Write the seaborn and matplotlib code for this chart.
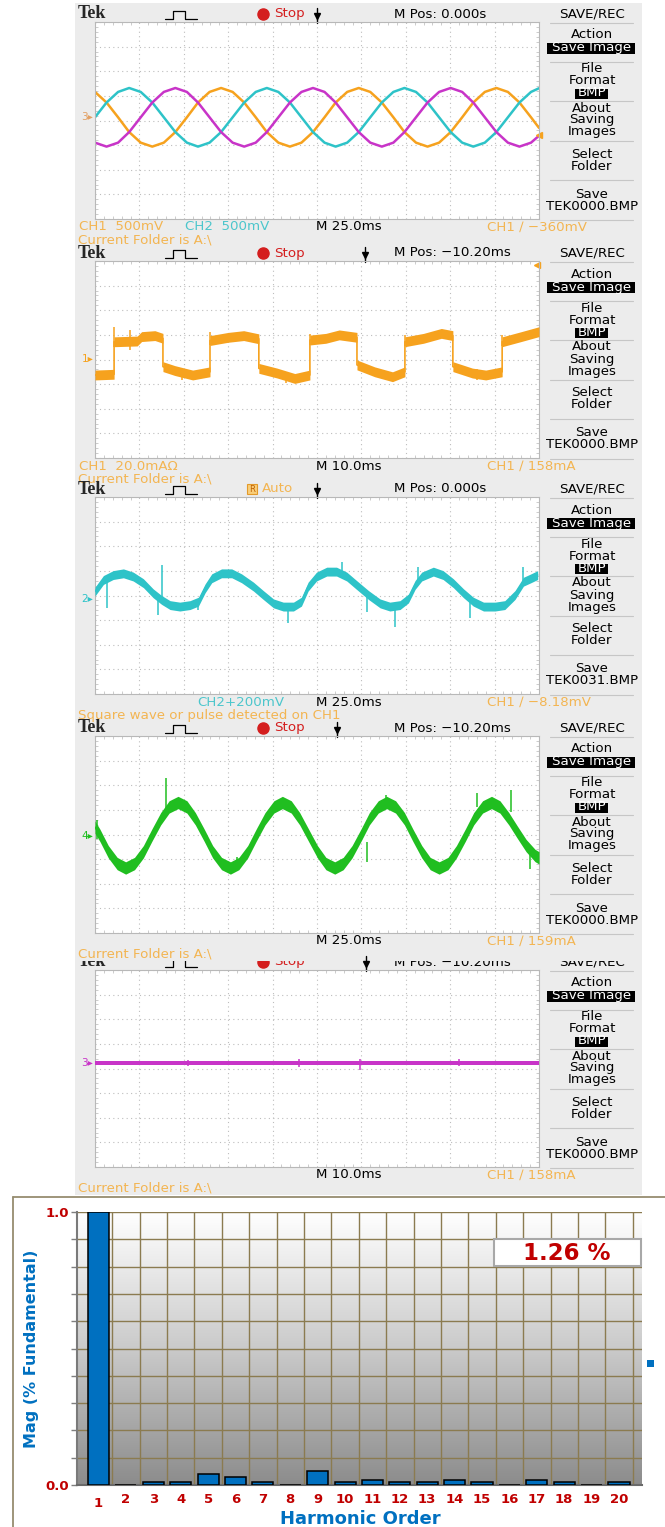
import numpy as np
import matplotlib
matplotlib.use("Agg")
import matplotlib.pyplot as plt
import matplotlib.transforms as mtransforms
from matplotlib.colors import LinearSegmentedColormap
from matplotlib.patches import Rectangle
from matplotlib.ticker import MultipleLocator
import seaborn as sns

# ---------------- data, in screen divisions (x 0..10, y -4..4) ----------------
# scope 1: three phase voltages
three_phase_t = [0.00, 0.26, 0.52, 0.77, 1.03, 1.29, 1.55, 1.81, 2.07, 2.32,
                 2.58, 2.84, 3.10, 3.36, 3.62, 3.87, 4.13, 4.39, 4.65, 4.91,
                 5.17, 5.42, 5.68, 5.94, 6.20, 6.46, 6.72, 6.97, 7.23, 7.49,
                 7.75, 8.01, 8.27, 8.52, 8.78, 9.04, 9.30, 9.56, 9.82, 10.00]
phase_a = [1.16, 0.73, 0.13, -0.47, -0.90, -1.06, -0.90, -0.47, 0.13, 0.73,
           1.16, 1.32, 1.16, 0.73, 0.13, -0.47, -0.90, -1.06, -0.90, -0.47,
           0.13, 0.73, 1.16, 1.32, 1.16, 0.73, 0.13, -0.47, -0.90, -1.06,
           -0.90, -0.47, 0.13, 0.73, 1.16, 1.32, 1.16, 0.73, 0.13, -0.30]
phase_b = [0.13, 0.73, 1.16, 1.32, 1.16, 0.73, 0.13, -0.47, -0.90, -1.06,
           -0.90, -0.47, 0.13, 0.73, 1.16, 1.32, 1.16, 0.73, 0.13, -0.47,
           -0.90, -1.06, -0.90, -0.47, 0.13, 0.73, 1.16, 1.32, 1.16, 0.73,
           0.13, -0.47, -0.90, -1.06, -0.90, -0.47, 0.13, 0.73, 1.16, 1.31]
phase_c = [-0.90, -1.06, -0.90, -0.47, 0.13, 0.73, 1.16, 1.32, 1.16, 0.73,
           0.13, -0.47, -0.90, -1.06, -0.90, -0.47, 0.13, 0.73, 1.16, 1.32,
           1.16, 0.73, 0.13, -0.47, -0.90, -1.06, -0.90, -0.47, 0.13, 0.73,
           1.16, 1.32, 1.16, 0.73, 0.13, -0.47, -0.90, -1.06, -0.90, -0.62]

# scope 2: load current (quasi square wave)
load_t = [0.00, 0.43, 0.43, 0.95, 1.05, 1.35, 1.53, 1.53, 1.80, 2.20, 2.59,
          2.59, 3.00, 3.35, 3.69, 3.69, 4.10, 4.50, 4.84, 4.84, 5.20, 5.50,
          5.90, 5.90, 6.30, 6.70, 6.98, 6.98, 7.40, 7.80, 8.06, 8.06, 8.50,
          8.80, 9.17, 9.17, 9.60, 10.00]
load_y = [-0.63, -0.60, 0.72, 0.75, 0.93, 0.97, 0.86, -0.29, -0.45, -0.63, -0.50,
          0.77, 0.90, 0.97, 0.84, -0.36, -0.55, -0.77, -0.63, 0.79, 0.86, 1.00,
          0.90, -0.22, -0.50, -0.70, -0.50, 0.72, 0.86, 1.06, 0.97, -0.29, -0.55,
          -0.63, -0.50, 0.72, 0.93, 1.13]
load_spike_t = [0.43, 0.79, 2.59, 4.84, 6.98, 9.17, 1.95, 4.30, 8.60]
load_spike_lo = [0.50, 0.40, 0.60, 0.60, 0.55, 0.55, -0.85, -0.95, -0.85]
load_spike_hi = [1.30, 1.20, 1.10, 1.05, 1.00, 1.00, -0.40, -0.50, -0.40]

# scope 3: compensator voltage
comp_t = [0.00, 0.19, 0.41, 0.64, 0.86, 1.09, 1.31, 1.50, 1.69, 1.91,
          2.14, 2.33, 2.48, 2.63, 2.85, 3.08, 3.30, 3.57, 3.79, 4.02,
          4.24, 4.47, 4.65, 4.80, 4.99, 5.22, 5.44, 5.67, 5.89, 6.16,
          6.42, 6.64, 6.87, 7.06, 7.21, 7.36, 7.62, 7.84, 8.07, 8.30,
          8.52, 8.75, 9.01, 9.23, 9.46, 9.65, 9.82, 9.97]
comp_y = [0.16, 0.63, 0.83, 0.90, 0.77, 0.50, 0.09, -0.18, -0.39, -0.45,
          -0.39, -0.25, 0.29, 0.70, 0.90, 0.90, 0.70, 0.36, 0.02, -0.32,
          -0.45, -0.45, -0.25, 0.36, 0.77, 0.97, 0.97, 0.77, 0.43, 0.02,
          -0.32, -0.45, -0.39, -0.12, 0.43, 0.77, 0.97, 0.83, 0.50, 0.09,
          -0.25, -0.45, -0.45, -0.39, 0.02, 0.56, 0.70, 0.83]
comp_spike_t = [0.26, 1.43, 1.50, 2.33, 4.35, 5.56, 6.12, 6.76, 7.28, 8.45, 9.65]
comp_spike_lo = [-0.52, -0.79, -0.18, -0.59, -1.13, 0.90, -0.66, -1.27, 0.63, -0.93, 0.50]
comp_spike_hi = [0.63, -0.12, 1.24, -0.25, -0.45, 1.38, 0.02, -0.39, 1.17, -0.18, 1.17]

# scope 4: source current
source_t = [0.00, 0.11, 0.30, 0.50, 0.69, 0.89, 1.09, 1.28, 1.48, 1.67,
            1.87, 2.07, 2.26, 2.46, 2.65, 2.85, 3.05, 3.24, 3.44, 3.63, 3.83, 4.03,
            4.22, 4.42, 4.61, 4.81, 5.01, 5.20, 5.40, 5.59, 5.79, 5.99, 6.18, 6.38,
            6.57, 6.77, 6.97, 7.16, 7.36, 7.55, 7.75, 7.95, 8.14, 8.34, 8.53, 8.73,
            8.93, 9.12, 9.32, 9.51, 9.71, 9.91, 10.00]
source_y = [0.30, -0.03, -0.70, -1.18, -1.36, -1.18, -0.70, -0.03, 0.64, 1.12,
            1.30, 1.12, 0.64, -0.03, -0.70, -1.18, -1.36, -1.18, -0.70, -0.03, 0.64, 1.12,
            1.30, 1.12, 0.64, -0.03, -0.70, -1.18, -1.36, -1.18, -0.70, -0.03, 0.64, 1.12,
            1.30, 1.12, 0.64, -0.03, -0.70, -1.18, -1.36, -1.18, -0.70, -0.03, 0.64, 1.12,
            1.30, 1.12, 0.64, 0.10, -0.45, -0.85, -0.95]
source_spike_t = [0.05, 1.59, 3.20, 6.13, 6.55, 8.60, 9.36, 9.79]
source_spike_lo = [-0.20, 0.82, -1.50, -1.12, 1.20, 1.10, 0.90, -1.39]
source_spike_hi = [0.60, 2.29, -0.90, -0.30, 1.62, 1.69, 1.82, -0.60]

# scope 5: neutral current
neutral_t = [0.00, 10.00]
neutral_y = [0.22, 0.22]
neutral_spike_t = [2.10, 4.60, 5.96, 8.20]
neutral_spike_lo = [0.10, 0.08, -0.05, 0.10]
neutral_spike_hi = [0.36, 0.38, 0.40, 0.40]

# harmonic spectrum
harmonic_order = list(range(1, 21))
harmonic_mag = [1.00, 0.00, 0.01, 0.01, 0.04, 0.03, 0.01, 0.00, 0.05, 0.01,
                0.02, 0.01, 0.01, 0.02, 0.01, 0.00, 0.02, 0.01, 0.00, 0.01]
thd_text = "1.26 %"

# scope screen texts
scope_top = [14, 253, 489, 728, 962]
scope_bg_top = [3, 240, 476, 715, 958]
scope_bg_bottom = [246, 482, 721, 961, 1195]
scope_status = ["Stop", "Stop", "Auto", "Stop", "Stop"]
scope_mpos = ["M Pos: 0.000s", "M Pos: \u221210.20ms", "M Pos: 0.000s",
              "M Pos: \u221210.20ms", "M Pos: \u221210.20ms"]
scope_file = ["TEK0000.BMP", "TEK0000.BMP", "TEK0031.BMP", "TEK0000.BMP", "TEK0000.BMP"]
scope_timebase = ["M 25.0ms", "M 10.0ms", "M 25.0ms", "M 25.0ms", "M 10.0ms"]
scope_trigger = ["CH1 \u2215 \u2212360mV", "CH1 \u2215 158mA", "CH1 \u2215 \u22128.18mV",
                 "CH1 \u2215 159mA", "CH1 \u2215 158mA"]
scope_message = ["Current Folder is A:\\", "Current Folder is A:\\",
                 "Square wave or pulse detected on CH1", "Current Folder is A:\\",
                 "Current Folder is A:\\"]
scope_trig_pos = [5.0, 6.08, 5.0, 5.45, 6.1]
scope_channel = ["3", "1", "2", "4", "3"]
scope_level = [0.13, 0.0, -0.15, -0.05, 0.22]

W, H = 665, 1527
SCREEN_BG = "#ECECEC"
ORANGE = "#F6A21E"
ORANGE_TXT = "#F3B552"
CYAN = "#2EC3C8"
CYAN_TXT = "#4CC6CC"
MAGENTA = "#C834C8"
GREEN = "#20BE20"
RED = "#C00000"
BLUE = "#0070C0"

sns.set_style("white")
plt.rcParams["font.family"] = ["DejaVu Sans"]

fig = plt.figure(figsize=(W / 100, H / 100), dpi=100)
fig.patch.set_facecolor("white")

page = fig.add_axes([0, 0, 1, 1], zorder=0)
page.set_xlim(0, W)
page.set_ylim(H, 0)
page.axis("off")

over = fig.add_axes([0, 0, 1, 1], zorder=5)
over.set_xlim(0, W)
over.set_ylim(H, 0)
over.axis("off")


def px_axes(x0, y0, x1, y1, z=2):
    return fig.add_axes([x0 / W, 1 - y1 / H, (x1 - x0) / W, (y1 - y0) / H], zorder=z)


menu_items = [("Action", 21), ("Save Image", 34), ("File", 55), ("Format", 67),
              ("BMP", 79), ("About", 94), ("Saving", 106), ("Images", 118),
              ("Select", 140), ("Folder", 152), ("Save", 180), (None, 192)]
bottom_items = [
    [(79, "CH1  500mV", ORANGE_TXT), (185, "CH2  500mV", CYAN_TXT)],
    [(79, "CH1  20.0mA\u03a9", ORANGE_TXT)],
    [(197, "CH2+200mV", CYAN_TXT)],
    [],
    [],
]
channel_color = ["#E2A064", ORANGE, CYAN, GREEN, MAGENTA]


def draw_screen(i):
    T = scope_top[i]
    # the last screen sits under the one above it, so its header is half hidden
    zb, zt = (10, 12) if i < 4 else (8, 9)
    page.add_patch(Rectangle((75, scope_bg_top[i]), 567, scope_bg_bottom[i] - scope_bg_top[i],
                             fc=SCREEN_BG, ec="none", zorder=zb))
    tx = dict(fontsize=9.6, va="center", zorder=zt)
    page.text(78, T, "Tek", fontsize=13, fontweight="bold", family="Liberation Serif",
              va="center", zorder=zt)
    page.plot([165, 173, 173, 185, 185, 197], [T + 5, T + 5, T - 3, T - 3, T + 5, T + 5],
              color="black", lw=0.9, zorder=zt)
    if scope_status[i] == "Stop":
        page.plot([263], [T], "o", color="#D41E1E", ms=8, zorder=zt)
        page.text(274, T, "Stop", color="#D41E1E", **tx)
    else:
        page.add_patch(Rectangle((247, T - 5), 10, 10, fc="#F9CE7A", ec="#E39A2A", lw=0.8, zorder=zt))
        page.text(252, T, "R", color="#C06000", fontsize=6, ha="center", va="center", zorder=zt)
        page.text(262, T, "Auto", color=ORANGE_TXT, **tx)
    page.text(394, T, scope_mpos[i], color="black", **tx)
    page.text(592, T, "SAVE/REC", ha="center", color="black", **tx)
    for off in [9, 48, 87, 127, 166, 206]:
        page.plot([550, 633], [T + off, T + off], color="#C6C6C6", lw=0.8, zorder=zt)
    page.add_patch(Rectangle((547, T + 28.5), 88, 11.5, fc="black", ec="none", zorder=zt))
    page.add_patch(Rectangle((575, T + 74.5), 33, 10, fc="black", ec="none", zorder=zt))
    for label, off in menu_items:
        label = scope_file[i] if label is None else label
        color = "white" if label in ("Save Image", "BMP") else "black"
        page.text(592, T + off, label, ha="center", color=color, **tx)
    for x, label, color in bottom_items[i]:
        page.text(x, T + 213, label, color=color, **tx)
    page.text(316, T + 213, scope_timebase[i], color="black", **tx)
    page.text(487, T + 213, scope_trigger[i], color=ORANGE_TXT, **tx)
    page.text(78, T + 226, scope_message[i], color=ORANGE_TXT, **tx)

    ax = px_axes(95, T + 8, 539, T + 205)
    ax.set_facecolor("white")
    ax.set_xlim(0, 10)
    ax.set_ylim(-4, 4)
    ax.set_xticks(range(11))
    ax.set_yticks(range(-4, 5))
    ax.xaxis.set_minor_locator(MultipleLocator(0.2))
    ax.yaxis.set_minor_locator(MultipleLocator(0.2))
    ax.tick_params(which="both", direction="in", labelleft=False, labelbottom=False,
                   left=True, right=True, top=True, bottom=True, color="#C4C4C4")
    ax.tick_params(which="major", length=0)
    ax.tick_params(which="minor", length=2.5, width=0.6)
    ax.grid(which="major", color="#BDBDBD", linestyle=(0, (1, 3)), lw=0.8)
    for s in ax.spines.values():
        s.set_color("#B8B8B8")
        s.set_linewidth(0.8)
    ax.plot([scope_trig_pos[i]], [4.25], marker="v", ms=4.5, color="black", clip_on=False)
    ax.plot([scope_trig_pos[i]] * 2, [3.95, 4.55], color="black", lw=1, clip_on=False)
    trans = mtransforms.blended_transform_factory(ax.transAxes, ax.transData)
    ax.text(-0.004, scope_level[i], scope_channel[i] + "\u25b8", transform=trans, ha="right",
            va="center", fontsize=7.5, color=channel_color[i])
    return ax


def noisy_trace(ax, t, y, band, color, spike_t, spike_lo, spike_hi):
    y = np.asarray(y)
    ax.fill_between(t, y - band, y + band, color=color, lw=0, zorder=3)
    sns.lineplot(x=t, y=y, sort=False, estimator=None, color=color, lw=1.2, ax=ax, zorder=3)
    ax.vlines(spike_t, spike_lo, spike_hi, color=color, lw=1.1, zorder=3)


# scope 1
ax1 = draw_screen(0)
for vals, col in [(phase_a, ORANGE), (phase_b, CYAN), (phase_c, MAGENTA)]:
    sns.lineplot(x=three_phase_t, y=vals, sort=False, estimator=None, color=col, lw=1.8, ax=ax1)
ax1.plot([10.0], [-0.59], marker="<", ms=4.5, color=ORANGE, clip_on=False)

# scope 2
ax2 = draw_screen(1)
noisy_trace(ax2, load_t, load_y, 0.2, ORANGE, load_spike_t, load_spike_lo, load_spike_hi)
ax2.plot([9.95], [3.85], marker="<", ms=4, color=ORANGE, clip_on=False)

# scope 3
ax3 = draw_screen(2)
noisy_trace(ax3, comp_t, comp_y, 0.18, CYAN, comp_spike_t, comp_spike_lo, comp_spike_hi)

# scope 4
ax4 = draw_screen(3)
noisy_trace(ax4, source_t, source_y, 0.25, GREEN, source_spike_t, source_spike_lo, source_spike_hi)

# scope 5
ax5 = draw_screen(4)
noisy_trace(ax5, neutral_t, neutral_y, 0.09, MAGENTA, neutral_spike_t, neutral_spike_lo, neutral_spike_hi)

# ---------------- harmonic spectrum ----------------
frame_col = "#968C70"
page.plot([13, 13], [1197, H], color=frame_col, lw=1.3)
page.plot([13, W], [1197, 1197], color=frame_col, lw=1.3)

axb = px_axes(77, 1212, 642, 1485)
x_lo, x_hi = -0.785, 19.84
gray_cmap = LinearSegmentedColormap.from_list("bg", ["#8C8C8C", "#CACACA", "#FFFFFF"])
axb.imshow(np.linspace(0, 1, 256)[:, None], extent=[x_lo, x_hi, 0, 1], aspect="auto",
           cmap=gray_cmap, origin="lower", zorder=0.1)
sns.barplot(x=harmonic_order, y=harmonic_mag, color=BLUE, width=0.77, edgecolor="black",
            linewidth=1.1, errorbar=None, saturation=1, ax=axb, zorder=3)
axb.set_xlim(x_lo, x_hi)
axb.set_ylim(0, 1)
axb.set_axisbelow(True)
axb.set_xticks([k + 0.5 for k in range(20)], minor=True)
axb.set_yticks([k / 10 for k in range(11)])
axb.set_yticklabels(["0.0"] + [""] * 9 + ["1.0"])
axb.grid(which="minor", axis="x", color="#8B7B50", lw=1)
axb.grid(which="major", axis="y", color="#8B7B50", lw=1)
axb.tick_params(axis="x", which="both", length=0, pad=6)
axb.tick_params(axis="y", length=4, width=1, color="#7F7F7F", pad=2, left=True)
for lab in axb.get_xticklabels() + axb.get_yticklabels():
    lab.set_color(RED)
    lab.set_fontweight("bold")
    lab.set_family("DejaVu Sans")
    lab.set_fontsize(9.5)
first = axb.get_xticklabels()[0]
first.set_transform(first.get_transform() + mtransforms.ScaledTranslation(0, -4 / 100, fig.dpi_scale_trans))
axb.set_xlabel("")
axb.set_ylabel("")
axb.spines["left"].set_color("#7A7A7A")
axb.spines["left"].set_linewidth(1.5)
axb.spines["bottom"].set_color("#6A6A6A")
axb.spines["bottom"].set_linewidth(1.5)
axb.spines["top"].set_visible(False)
axb.spines["right"].set_visible(False)

fig.text(32 / W, 1 - 1349 / H, "Mag (% Fundamental)", rotation=90, ha="center", va="center",
         color=BLUE, fontsize=11.5, fontweight="bold", family="DejaVu Sans")
fig.text(360 / W, 1 - 1519 / H, "Harmonic Order", ha="center", va="center",
         color=BLUE, fontsize=13, fontweight="bold", family="DejaVu Sans")

over.add_patch(Rectangle((494, 1239), 147, 27, fc="white", ec="#A8A8A8", lw=1.5))
over.text(567, 1253, thd_text, ha="center", va="center", color=RED, fontsize=16.5,
          fontweight="bold", family="DejaVu Sans")
over.add_patch(Rectangle((647, 1360), 7, 7, fc=BLUE, ec="none"))

fig.savefig("out.png", dpi=100)
